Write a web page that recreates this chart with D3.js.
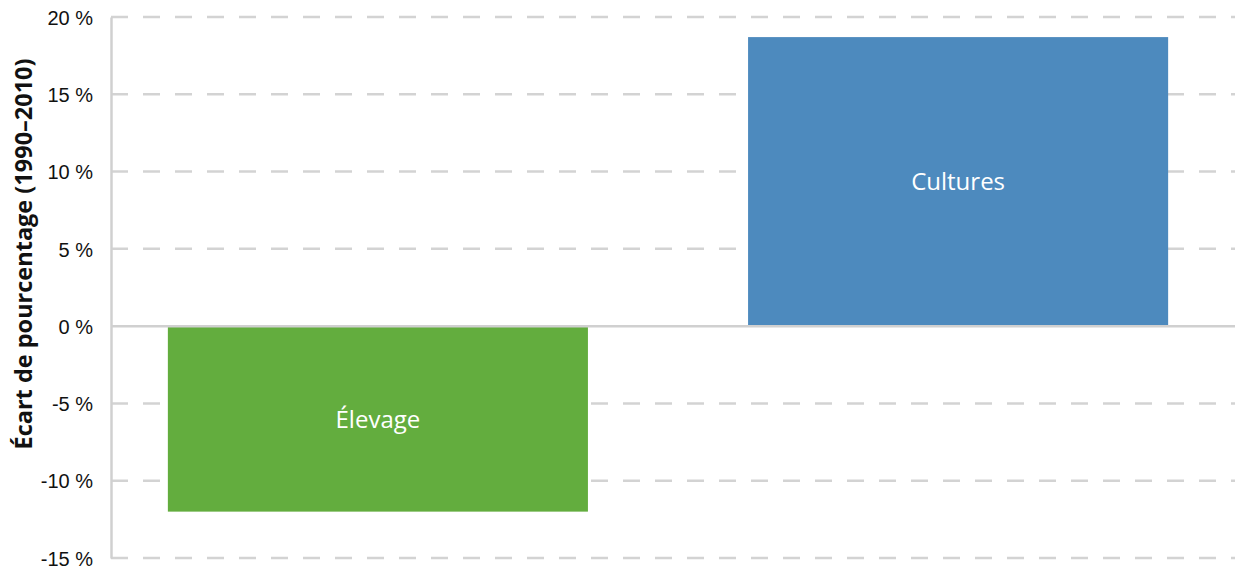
<!DOCTYPE html>
<html>
<head>
<meta charset="utf-8">
<script src="https://cdn.jsdelivr.net/npm/d3@7"></script>
<style>
  body { margin: 0; background: #fff; }
  svg { display: block; font-family: "Open Sans", "Noto Sans", sans-serif; }
</style>
</head>
<body>
<div id="chart"></div>
<script>
const categories = ["Élevage", "Cultures"];
const values = [-12.0, 18.7];
const barColors = ["#63ad3e", "#4d8abe"];
const yTicks = [-15, -10, -5, 0, 5, 10, 15, 20];
const yTitle = "Écart de pourcentage (1990–2010)";

const width = 1235, height = 566;
const plotLeft = 111, plotRight = 1225, plotTop = 17, plotBottom = 558;

const svg = d3.select("#chart").append("svg")
  .attr("width", width)
  .attr("height", height);

const y = d3.scaleLinear().domain([-15, 20]).range([plotBottom, plotTop]);
const x = d3.scaleBand()
  .domain(categories)
  .range([plotLeft, plotRight])
  .paddingInner(0.276)
  .paddingOuter(0.098);

// dashed gridlines, first dash starts at the axis
svg.append("g")
  .selectAll("line")
  .data(yTicks.filter(d => d !== 0))
  .enter()
  .append("line")
  .attr("x1", plotLeft)
  .attr("x2", width)
  .attr("y1", d => y(d))
  .attr("y2", d => y(d))
  .attr("stroke", "#d3d3d3")
  .attr("stroke-width", 2.5)
  .attr("stroke-dasharray", "17,15");

// y axis
const yAxis = d3.axisLeft(y)
  .tickValues(yTicks)
  .tickSize(0)
  .tickPadding(18)
  .tickFormat(d => d + " %");

const gy = svg.append("g")
  .attr("transform", `translate(${plotLeft},0)`)
  .call(yAxis);
gy.select(".domain").attr("stroke", "#d0d0d0").attr("stroke-width", 2.5);
gy.selectAll("text")
  .attr("fill", "#111")
  .attr("dy", "0.36em")
  .style("font-size", "20px");

// bars
svg.append("g")
  .selectAll("rect")
  .data(values)
  .enter()
  .append("rect")
  .attr("x", (d, i) => x(categories[i]))
  .attr("width", x.bandwidth())
  .attr("y", d => y(Math.max(0, d)))
  .attr("height", d => Math.abs(y(d) - y(0)))
  .attr("fill", (d, i) => barColors[i]);

// zero line
svg.append("line")
  .attr("x1", plotLeft)
  .attr("x2", width)
  .attr("y1", y(0))
  .attr("y2", y(0))
  .attr("stroke", "#d0d0d0")
  .attr("stroke-width", 2.5);

// labels inside bars
svg.append("g")
  .selectAll("text")
  .data(values)
  .enter()
  .append("text")
  .attr("x", (d, i) => x(categories[i]) + x.bandwidth() / 2)
  .attr("y", d => (y(d) + y(0)) / 2)
  .attr("dy", "0.36em")
  .attr("text-anchor", "middle")
  .attr("fill", "#fff")
  .style("font-size", "24px")
  .text((d, i) => categories[i]);

// axis title
svg.append("text")
  .attr("transform", "translate(32, 254) rotate(-90)")
  .attr("text-anchor", "middle")
  .attr("fill", "#111")
  .style("font-size", "23.5px")
  .style("font-weight", "bold")
  .text(yTitle);
</script>
</body>
</html>
